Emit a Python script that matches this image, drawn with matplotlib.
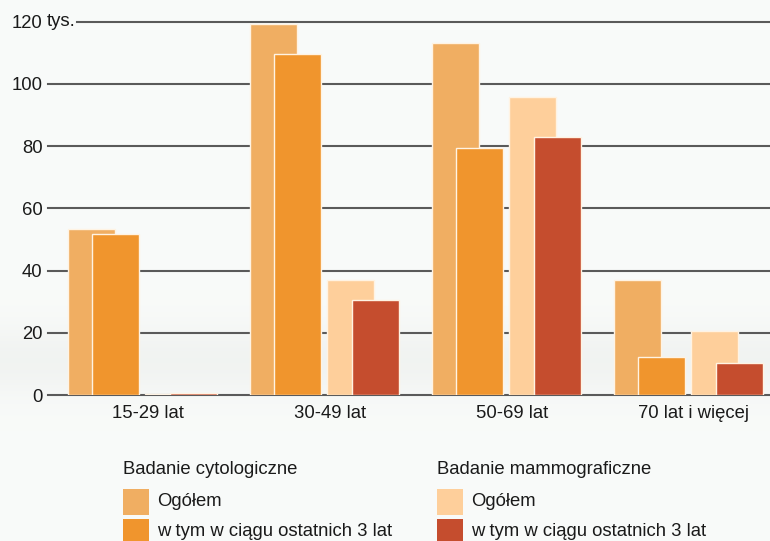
import matplotlib
matplotlib.use("Agg")
import matplotlib.pyplot as plt
from matplotlib.patches import Rectangle
import numpy as np

plt.rcParams['font.family'] = ['Liberation Sans', 'DejaVu Sans']

categories = ["15-29 lat", "30-49 lat", "50-69 lat", "70 lat i więcej"]
cyt_ogolem = [53.3, 119.3, 113.2, 36.9]
cyt_3lat = [51.7, 109.7, 79.5, 12.1]
mam_ogolem = [0.3, 36.9, 95.7, 20.5]
mam_3lat = [0.5, 30.5, 82.9, 10.4]
yticks = [0, 20, 40, 60, 80, 100, 120]

c_cyt_og = '#F0AE62'
c_cyt_3 = '#F0952D'
c_mam_og = '#FECF9B'
c_mam_3 = '#C54D2E'

W, H = 770, 541
fig = plt.figure(figsize=(W / 100, H / 100), dpi=100)
fig.patch.set_facecolor('#f8f8f7')

# subtle background band
bg = fig.add_axes([0, 0, 1, 1], zorder=-10)
yy = np.arange(H)
vals = 0.975 - 0.03 * np.exp(-((yy - 360) / 35.0) ** 2)
img = np.dstack([vals, vals + 0.008, vals + 0.002]).reshape(H, 1, 3).clip(0, 1)
bg.imshow(img, aspect='auto', extent=[0, 1, 0, 1], transform=bg.transAxes)
bg.axis('off')

x0px, spacing = 148, 182
left_px, right_px = 48, 770
ax = fig.add_axes([left_px / W, (H - 395) / H, (right_px - left_px) / W, (395 - 21.7) / H])
ax.patch.set_alpha(0)
ax.set_xlim((left_px - x0px) / spacing, (right_px - x0px) / spacing)
ax.set_ylim(0, 120)

x = np.arange(len(categories))
bw = 47 / spacing
ek = dict(edgecolor='#fff3e3', linewidth=1.0, align='edge')
ax.bar(x - 0.44, cyt_ogolem, bw, color=c_cyt_og, zorder=3, **ek)
ax.bar(x - 0.31, cyt_3lat, bw, color=c_cyt_3, zorder=4, **ek)
ax.bar(x - 0.015, mam_ogolem, bw, color=c_mam_og, zorder=5, **ek)
ax.bar(x + 0.12, mam_3lat, bw, color=c_mam_3, zorder=6, **ek)

for v in yticks:
    xmin = 0.0 if v != 120 else (77 - left_px) / (right_px - left_px)
    ax.axhline(v, xmin=xmin, xmax=1, color='#5a5a5a', linewidth=1.5, zorder=1, clip_on=False)

for s in ax.spines.values():
    s.set_visible(False)
ax.set_yticks(yticks)
ax.set_yticklabels([str(v) for v in yticks], fontsize=13.3, color='#1a1a1a')
ax.tick_params(axis='y', length=0, pad=4)
ax.text((47 - x0px) / spacing, 120, "tys.", fontsize=13.3, color='#1a1a1a',
        ha='left', va='center')
ax.set_xticks(x)
ax.set_xticklabels(categories, fontsize=13.3, color='#1a1a1a')
ax.tick_params(axis='x', length=0, pad=7)

# legend
def fy(py):
    return 1 - py / H

fig.text(123 / W, fy(470), "Badanie cytologiczne", fontsize=13.3, color='#1a1a1a', va='center', ha='left')
fig.text(437 / W, fy(470), "Badanie mammograficzne", fontsize=13.3, color='#1a1a1a', va='center', ha='left')
items = [(123, 489, c_cyt_og, "Ogółem"), (123, 519, c_cyt_3, "w tym w ciągu ostatnich 3 lat"),
         (437, 489, c_mam_og, "Ogółem"), (437, 519, c_mam_3, "w tym w ciągu ostatnich 3 lat")]
for px, py, col, lab in items:
    fig.add_artist(Rectangle((px / W, fy(py + 26)), 26 / W, 26 / H, transform=fig.transFigure,
                             facecolor=col, edgecolor='none'))
    fig.text((px + 34) / W, fy(py + 13), lab, fontsize=13.3, color='#1a1a1a', va='center', ha='left')

fig.savefig("out.png", dpi=100, facecolor=fig.get_facecolor())
